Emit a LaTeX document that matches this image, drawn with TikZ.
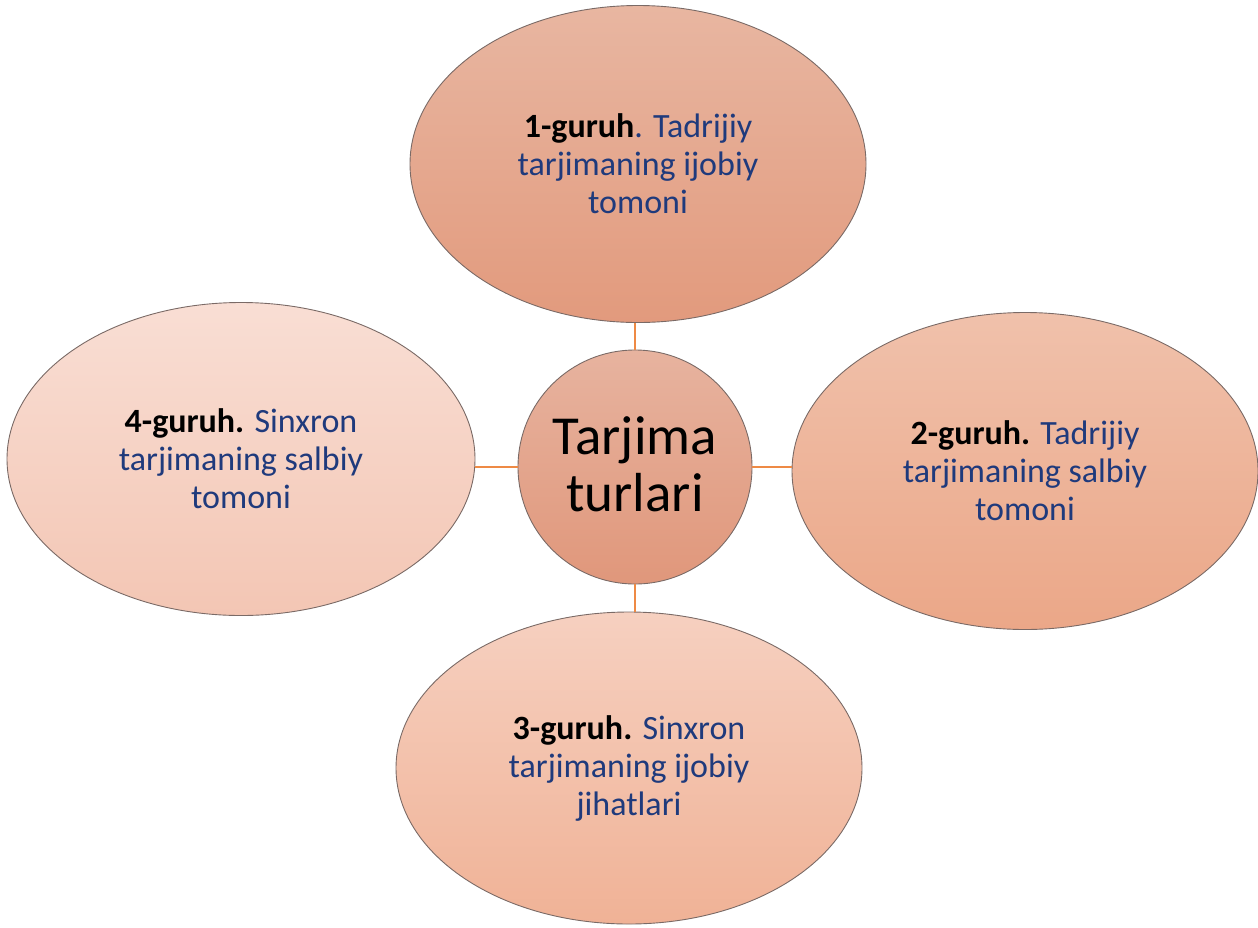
\documentclass[tikz,border=0pt]{standalone}
\usepackage{fontspec}
\setmainfont{Carlito}
\usetikzlibrary{shapes.geometric,calc}

\definecolor{navy}{HTML}{1F3A7C}
\definecolor{rim}{HTML}{7A6A66}
\definecolor{link}{HTML}{EE8A45}
\definecolor{hubtop}{HTML}{E7B39F}
\definecolor{hubbot}{HTML}{E0977B}

\tikzset{
  bubble/.style={ellipse, draw=rim, line width=0.9pt, inner sep=0pt,
    align=center, font=\fontsize{34}{38}\selectfont, text=navy},
  hub/.style={circle, draw=rim, line width=0.9pt, inner sep=0pt,
    minimum size=234pt, align=center, font=\fontsize{55}{57}\selectfont,
    top color=hubtop, bottom color=hubbot},
  spoke/.style={draw=link, line width=2pt}
}

\begin{document}
\begin{tikzpicture}[x=1pt,y=-1pt]
  \useasboundingbox (0,0) rectangle (1258,927);

  % central hub
  \node[hub] (c) at (635,467) {};
  \node[font=\fontsize{55}{57}\selectfont, align=center] (ct) at (635,464) {Tarjima\\turlari};

  % the four group bubbles
  \node[bubble, minimum width=456pt, minimum height=317pt,
        top color={rgb,255:red,232;green,182;blue,161}, bottom color={rgb,255:red,226;green,154;blue,125}]
    (e1) at (638,164) {{\bfseries\color{black}1-guruh}. Tadrijiy\\tarjimaning ijobiy\\tomoni};

  \node[bubble, minimum width=466pt, minimum height=317pt,
        top color={rgb,255:red,240;green,193;blue,171}, bottom color={rgb,255:red,235;green,167;blue,136}]
    (e2) at (1025,471) {{\bfseries\color{black}2-guruh.} Tadrijiy\\tarjimaning salbiy\\tomoni};

  \node[bubble, minimum width=466pt, minimum height=312pt,
        top color={rgb,255:red,246;green,208;blue,192}, bottom color={rgb,255:red,240;green,178;blue,150}]
    (e3) at (629,768) {{\bfseries\color{black}3-guruh.} Sinxron\\tarjimaning ijobiy\\jihatlari};

  \node[bubble, minimum width=468pt, minimum height=313pt,
        top color={rgb,255:red,249;green,222;blue,212}, bottom color={rgb,255:red,243;green,198;blue,180}]
    (e4) at (241,459) {{\bfseries\color{black}4-guruh.} Sinxron\\tarjimaning salbiy\\tomoni};

  % spokes from the hub to each bubble
  \draw[spoke] (c.north) -- (c.north |- e1.south);
  \draw[spoke] (c.east) -- (c.east -| e2.west);
  \draw[spoke] (c.south) -- (c.south |- e3.north);
  \draw[spoke] (c.west) -- (c.west -| e4.east);
\end{tikzpicture}
\end{document}
